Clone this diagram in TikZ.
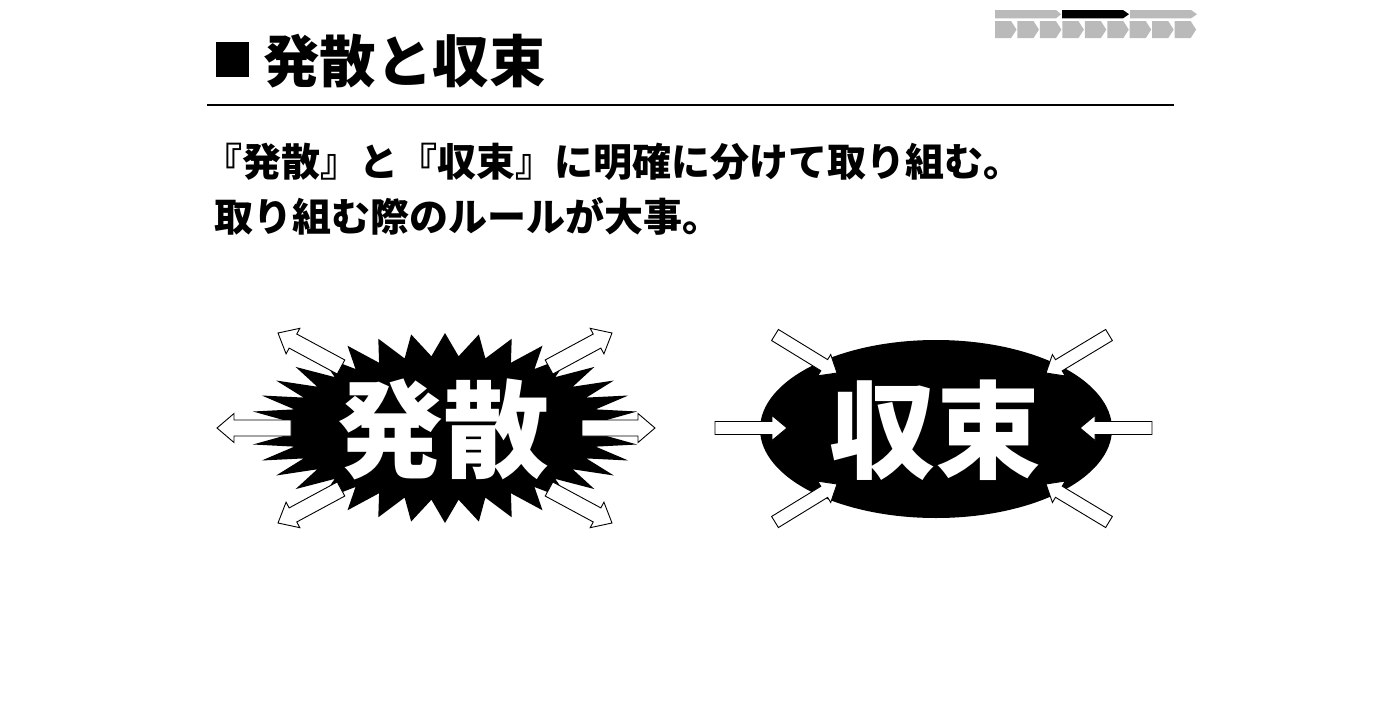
\documentclass[tikz,border=0pt]{standalone}
\usepackage{fontspec}
\setmainfont{Noto Sans CJK JP}
\usetikzlibrary{calc}
\tikzset{
  arrowbody/.style={draw=black,fill=white,line width=0.9pt,line join=miter},
  progray/.style={fill=black!27},
  problack/.style={fill=black},
  bigtext/.style={text=white,inner sep=0pt,font=\fontsize{106}{106}\selectfont\bfseries},
  subtext/.style={anchor=west,inner sep=0pt,font=\fontsize{39}{39}\selectfont\bfseries},
}
% block arrow: #1 tail, #2 tip, #3 shaft half width, #4 head half width, #5 head length
\newcommand\blockarrow[5]{%
  \coordinate (bah) at ($(#2)!#5pt!(#1)$);
  \draw[arrowbody] ($(#1)!#3pt!90:(#2)$) -- ($(bah)!#3pt!90:(#2)$) -- ($(bah)!#4pt!90:(#2)$) -- (#2)
    -- ($(bah)!#4pt!-90:(#2)$) -- ($(bah)!#3pt!-90:(#2)$) -- ($(#1)!#3pt!-90:(#2)$) -- cycle;
}
\begin{document}
\begin{tikzpicture}[x=1pt,y=-1pt]
\useasboundingbox (0,0) rectangle (1375,720);
\fill[white] (0,0) rectangle (1375,720);

% progress indicator
\fill[progray] (995,10) -- (1056,10) -- (1061,14.2) -- (1056,18.4) -- (995,18.4) -- cycle;
\fill[problack] (1062,10) -- (1123,10) -- (1129,14.2) -- (1123,18.4) -- (1062,18.4) -- cycle;
\fill[progray] (1130,10) -- (1191,10) -- (1197,14.2) -- (1191,18.4) -- (1130,18.4) -- cycle;
\foreach \k in {0,...,8}{
  \pgfmathsetmacro\xo{995+22.45*\k}
  \fill[progray] (\xo,21) -- (\xo+16,21) -- (\xo+21.5,29.6) -- (\xo+16,38.2) -- (\xo,38.2) -- cycle;
}

% title
\fill (216,42) rectangle (249,77);
\node[anchor=west,inner sep=0pt,font=\fontsize{56.5}{56.5}\selectfont\bfseries] (title) at (263,61) {発散と収束};
\draw[line width=1.3pt] (207,105) -- (1174,105);

% subtitle
\node[subtext] (sub1) at (203,162) {『発散』と『収束』に明確に分けて取り組む。};
\node[subtext] (sub2) at (214,216) {取り組む際のルールが大事。};

% starburst
\fill[shift={(445,428)}] (195,0)
  \foreach \i [evaluate=\i as \ra using {ifthenelse(mod(\i,2)==0,195,156)},
               evaluate=\i as \rb using {ifthenelse(mod(\i,2)==0,95,72)}] in {1,...,71}
  { -- ({\ra*cos(\i*5)},{\rb*sin(\i*5)}) } -- cycle;

% divergence arrows
\coordinate (d1t) at (291,428);  \coordinate (d1h) at (217,428);
\coordinate (d2t) at (582,428);  \coordinate (d2h) at (655,428);
\coordinate (d3t) at (341,367);  \coordinate (d3h) at (278,333);
\coordinate (d4t) at (549,367);  \coordinate (d4h) at (612,333);
\coordinate (d5t) at (341,489);  \coordinate (d5h) at (278,523);
\coordinate (d6t) at (549,489);  \coordinate (d6h) at (612,523);
\foreach \n in {1,...,6}{\blockarrow{d\n t}{d\n h}{8}{14.5}{17}}

\node[bigtext] (hassan) at (443,429) {発散};

% convergence ellipse
\fill (936,429) ellipse [x radius=176, y radius=89];
\node[bigtext] (shusoku) at (935,430) {収束};

\coordinate (c1t) at (715,428);  \coordinate (c1h) at (787,428);
\coordinate (c2t) at (1152,428); \coordinate (c2h) at (1080,428);
\coordinate (c3t) at (775,335);  \coordinate (c3h) at (837,373);
\coordinate (c4t) at (1109,335); \coordinate (c4h) at (1046,373);
\coordinate (c5t) at (775,522);  \coordinate (c5h) at (837,484);
\coordinate (c6t) at (1109,522); \coordinate (c6h) at (1046,484);
\foreach \n in {1,...,6}{\blockarrow{c\n t}{c\n h}{6.5}{12.5}{15}}
\end{tikzpicture}
\end{document}
